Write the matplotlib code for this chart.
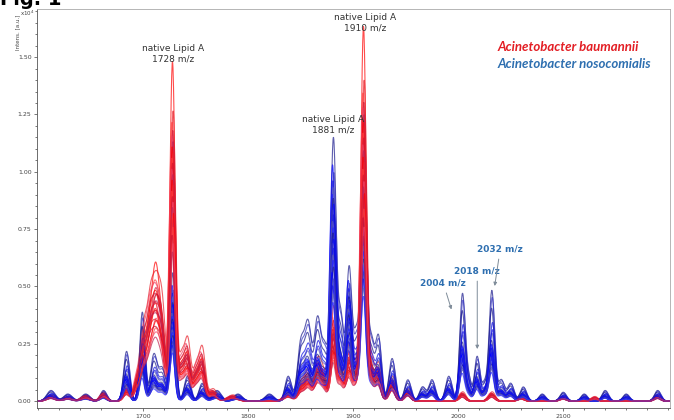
import numpy as np
import matplotlib
matplotlib.use("Agg")
import matplotlib.pyplot as plt
from matplotlib.ticker import MultipleLocator, FixedLocator

# Peak tables: centre m/z, width (sigma), base height (x10^4)
RED_MZ = [1612, 1628, 1645, 1662, 1684, 1694, 1700, 1706, 1712, 1718, 1728, 1736, 1742, 1750, 1756,
          1766, 1785, 1838, 1850, 1857, 1866, 1872, 1881, 1888, 1896, 1903, 1910, 1917, 1924, 1937,
          1952, 2004, 2032, 2060, 2100, 2130, 2190]
RED_SIG = [4, 4, 4, 3, 3, 3, 2.8, 3.2, 3.4, 3.2, 2.5, 2.8, 2.8, 3, 2.8,
           4, 5, 4, 3, 3.2, 3.2, 3, 2.6, 2.8, 2.8, 2.8, 2.5, 2.8, 2.8, 3,
           3, 3, 3, 3, 3, 3, 3]
RED_H = [0.02, 0.015, 0.02, 0.03, 0.05, 0.08, 0.20, 0.28, 0.42, 0.27, 1.20, 0.14, 0.19, 0.11, 0.16,
         0.04, 0.02, 0.03, 0.06, 0.10, 0.13, 0.08, 0.30, 0.12, 0.18, 0.11, 1.32, 0.13, 0.12, 0.08,
         0.04, 0.03, 0.03, 0.015, 0.015, 0.015, 0.02]

BLUE_MZ = [1612, 1628, 1645, 1662, 1684, 1699, 1710, 1718, 1728, 1742, 1756, 1770, 1790, 1820,
           1838, 1850, 1857, 1866, 1873, 1881, 1888, 1896, 1903, 1910, 1917, 1924, 1937, 1952,
           1966, 1975, 1991, 2004, 2010, 2018, 2025, 2032, 2041, 2050, 2062, 2080, 2100, 2120,
           2140, 2160, 2190]
BLUE_SIG = [4, 4, 4, 3, 2.8, 2.5, 3.2, 3.2, 2.5, 3, 3, 4, 4, 4,
            3, 3.2, 3.2, 3.2, 2.8, 2.6, 2.8, 2.6, 2.8, 2.5, 2.8, 2.8, 3, 3,
            3, 3, 3, 2.6, 2.5, 2.5, 2.5, 2.6, 3, 3, 3, 3, 3, 3,
            3, 3, 3]
BLUE_H = [0.03, 0.02, 0.02, 0.03, 0.14, 0.25, 0.13, 0.09, 0.42, 0.07, 0.05, 0.03, 0.02, 0.02,
          0.07, 0.16, 0.21, 0.23, 0.14, 0.85, 0.24, 0.43, 0.19, 0.90, 0.17, 0.18, 0.12, 0.06,
          0.04, 0.06, 0.07, 0.30, 0.06, 0.125, 0.05, 0.31, 0.06, 0.05, 0.04, 0.02, 0.025, 0.02,
          0.03, 0.02, 0.03]

MAIN_CUT = 0.35  # peaks above this base height follow the "main" scale

# Per-replicate scaling of main and side peaks, and small m/z shifts
RED_MAIN = [1.23, 1.05, 1.01, 0.98, 0.96, 0.94, 0.92, 0.90, 0.88, 0.86, 0.84, 0.82,
            0.80, 0.78, 0.76, 0.74, 0.72, 0.70, 0.68, 0.66, 0.63, 0.60, 0.57, 0.54]
RED_SIDE = [0.95, 1.36, 1.10, 0.88, 1.20, 0.75, 1.02, 0.92, 0.68, 1.15, 0.85, 0.98,
            0.72, 1.05, 0.80, 0.90, 0.62, 0.96, 0.70, 0.84, 0.58, 0.78, 0.66, 0.55]
RED_SHIFT = [0.0, 0.6, -0.4, 0.3, -0.7, 0.5, -0.2, 0.8, -0.5, 0.2, -0.8, 0.4,
             -0.3, 0.7, -0.6, 0.1, 0.5, -0.1, 0.9, -0.9, 0.3, -0.4, 0.6, -0.2]

BLUE_MAIN = [1.33, 1.20, 1.15, 1.12, 1.08, 1.05, 1.02, 1.00, 0.97, 0.94, 0.91, 0.88,
             0.85, 0.82, 0.80, 0.77, 0.74, 0.71, 0.68, 0.65, 0.62, 0.58, 0.54, 0.50]
BLUE_SIDE = [1.55, 0.80, 1.45, 0.70, 0.95, 0.65, 1.30, 0.75, 0.60, 1.10, 0.72, 0.58,
             0.85, 0.68, 0.55, 1.00, 0.62, 0.78, 0.52, 0.66, 0.48, 0.74, 0.45, 0.40]
BLUE_SHIFT = [0.3, -0.5, 0.7, -0.2, 0.4, -0.8, 0.1, 0.6, -0.4, 0.9, -0.6, 0.2,
              -0.1, 0.5, -0.7, 0.8, -0.3, 0.0, 0.4, -0.9, 0.6, -0.5, 0.2, -0.2]

RED_COLORS = ["#ff0000", "#e8202a", "#ff3b3b", "#d01030", "#f04060", "#c02050"]
BLUE_COLORS = ["#1a1a8c", "#0000ff", "#3434c4", "#1010e0", "#5a5ab4", "#2020ff"]

mz = np.arange(1598, 2204, 0.25)


def spectrum(centres, sigmas, heights, main, side, shift):
    y = np.zeros_like(mz)
    for c, s, h in zip(centres, sigmas, heights):
        k = main if h > MAIN_CUT else side
        y += h * k * np.exp(-0.5 * ((mz - c - shift) / s) ** 2)
    return y


fig = plt.figure(figsize=(6.74, 4.2), dpi=100)
ax = fig.add_axes([0.055, 0.0286, 0.939, 0.95])

for i in range(len(RED_MAIN)):
    yb = spectrum(BLUE_MZ, BLUE_SIG, BLUE_H, BLUE_MAIN[i], BLUE_SIDE[i], BLUE_SHIFT[i])
    ax.plot(mz, yb, color=BLUE_COLORS[i % len(BLUE_COLORS)], lw=0.8, alpha=0.7)
    yr = spectrum(RED_MZ, RED_SIG, RED_H, RED_MAIN[i], RED_SIDE[i], RED_SHIFT[i])
    ax.plot(mz, yr, color=RED_COLORS[i % len(RED_COLORS)], lw=0.8, alpha=0.7)

ax.set_xlim(1599, 2202)
ax.set_ylim(-0.03, 1.71)
ax.xaxis.set_major_locator(FixedLocator([1700, 1800, 1900, 2000, 2100]))
ax.xaxis.set_minor_locator(MultipleLocator(20))
ax.yaxis.set_major_locator(MultipleLocator(0.25))
ax.yaxis.set_minor_locator(MultipleLocator(0.05))
ax.yaxis.set_major_formatter(plt.FormatStrFormatter("%.2f"))
ax.tick_params(which="both", direction="out", labelsize=4.5, colors="#444444", width=0.5)
ax.tick_params(which="major", length=2.5, pad=1.5)
ax.tick_params(which="minor", length=1.5)
for side in ["left", "bottom"]:
    ax.spines[side].set_color("#555555")
    ax.spines[side].set_linewidth(0.6)
for side in ["top", "right"]:
    ax.spines[side].set_color("#aaaaaa")
    ax.spines[side].set_linewidth(0.6)

ax.text(-0.03, 0.985, "Intens. [a.u.]", transform=ax.transAxes, rotation=90,
        fontsize=4, color="#444444", ha="center", va="top")
ax.text(-0.015, 1.0, "x10$^4$", transform=ax.transAxes, fontsize=4,
        color="#444444", ha="center", va="top")

# peak labels
lab = dict(fontsize=6.5, color="#333333", ha="center", va="center", linespacing=1.15)
ax.text(1728.6, 1.515, "native Lipid A\n1728 m/z", **lab)
ax.text(1911.6, 1.65, "native Lipid A\n1910 m/z", **lab)
ax.text(1881.0, 1.206, "native Lipid A\n1881 m/z", **lab)

blue_txt = "#2e6fb0"
ann = dict(fontsize=6.5, color=blue_txt, ha="center", va="center", fontweight="semibold")
arrow = dict(arrowstyle="-|>", color="#7f8c99", lw=0.7, mutation_scale=5)
ax.annotate("2004 m/z", xy=(1994.6, 0.388), xytext=(1986.0, 0.515), arrowprops=arrow, **ann)
ax.annotate("2018 m/z", xy=(2018.4, 0.215), xytext=(2018.4, 0.567), arrowprops=arrow, **ann)
ax.annotate("2032 m/z", xy=(2034.6, 0.49), xytext=(2040.3, 0.663), arrowprops=arrow, **ann)

# species legend
ax.text(0.728, 0.904, "Acinetobacter baumannii", transform=ax.transAxes, fontsize=9.5,
        color="#e31e24", fontweight="bold", style="italic", family="Lato", va="center")
ax.text(0.728, 0.862, "Acinetobacter nosocomialis", transform=ax.transAxes, fontsize=9.5,
        color="#2e6fb0", fontweight="bold", style="italic", family="Lato", va="center")

# figure caption, cut by the top edge as in the source image
fig.text(0.0, 0.988, "Fig. 1", fontsize=14, fontweight="bold", color="black",
         ha="left", va="baseline")

fig.savefig("out.png", dpi=100)
